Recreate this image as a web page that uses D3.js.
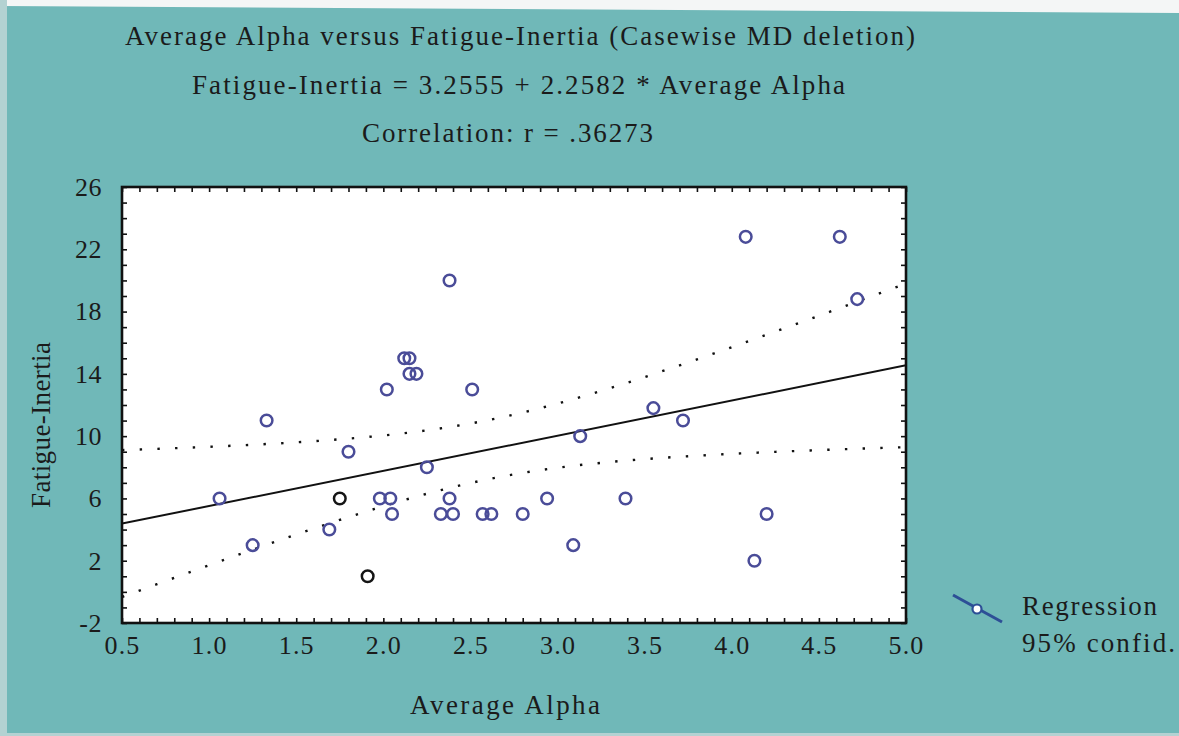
<!DOCTYPE html>
<html>
<head>
<meta charset="utf-8">
<script src="https://cdn.jsdelivr.net/npm/d3@7"></script>
<style>
  html, body { margin: 0; padding: 0; background: #70b8b8; }
  svg { display: block; }
  text { font-family: "Liberation Serif", "Times New Roman", serif; fill: #1b1b1b; }
</style>
</head>
<body>
<svg id="chart" width="1179" height="736"></svg>
<script>
// Average Alpha (x) and Fatigue-Inertia (y) for each case
const alphaValues = [1.06, 1.25, 1.33, 1.69, 1.75, 1.80, 1.91, 1.98, 2.04, 2.05,
                     2.02, 2.12, 2.15, 2.15, 2.19, 2.25, 2.38, 2.33, 2.40, 2.38,
                     2.51, 2.57, 2.62, 2.80, 2.94, 3.09, 3.13, 3.39, 3.55, 3.72,
                     4.08, 4.13, 4.20, 4.62, 4.72];
const fatigueValues = [6, 3, 11, 4, 6, 9, 1, 6, 6, 5,
                       13, 15, 15, 14, 14, 8, 20, 5, 5, 6,
                       13, 5, 5, 5, 6, 3, 10, 6, 11.8, 11,
                       22.8, 2, 5, 22.8, 18.8];
// cases drawn with a black outline
const blackCases = [4, 6];

// fitted regression and its statistics
const intercept = 3.2555;
const slope = 2.2582;
const correlation = ".36273";
const tCrit = 2.0345; // t(0.975, df = 33)

const xTicks = [0.5, 1.0, 1.5, 2.0, 2.5, 3.0, 3.5, 4.0, 4.5, 5.0];
const yTicks = [-2, 2, 6, 10, 14, 18, 22, 26];

const svg = d3.select("#chart");
const W = 1179, H = 736;
const plot = { left: 122, right: 906, top: 187, bottom: 623 };

// page background with the light scan edges
svg.append("rect").attr("width", W).attr("height", H).attr("fill", "#70b8b8");
svg.append("path").attr("d", `M0,0H${W}V13L0,6Z`).attr("fill", "#f4f6f6");
svg.append("rect").attr("x", 0).attr("y", 0).attr("width", 7).attr("height", H).attr("fill", "#b3d2d2");
svg.append("rect").attr("x", 0).attr("y", H - 3).attr("width", W).attr("height", 3).attr("fill", "#b3d2d2");

const x = d3.scaleLinear().domain([0.5, 5.0]).range([plot.left, plot.right]);
const y = d3.scaleLinear().domain([-2, 26]).range([plot.bottom, plot.top]);

// titles
const titles = [
  { text: "Average Alpha versus Fatigue-Inertia (Casewise MD deletion)", x: 125, y: 45, len: 790 },
  { text: `Fatigue-Inertia = ${intercept} + ${slope} * Average Alpha`, x: 192, y: 94, len: 653 },
  { text: `Correlation: r = ${correlation}`, x: 362, y: 142, len: 291 }
];
svg.selectAll("text.title").data(titles).join("text")
  .attr("class", "title")
  .attr("x", d => d.x).attr("y", d => d.y)
  .attr("textLength", d => d.len).attr("lengthAdjust", "spacing")
  .style("font-size", "27px")
  .text(d => d.text);

// plot area
svg.append("rect")
  .attr("x", plot.left).attr("y", plot.top)
  .attr("width", plot.right - plot.left).attr("height", plot.bottom - plot.top)
  .attr("fill", "#ffffff");

// inner minor ticks on all four sides
const xMinor = d3.range(5, 51).map(d => d / 10);
const yMinor = d3.range(-2, 27);
function minorAxis(axisFn, scale, values, transform) {
  const g = svg.append("g").attr("transform", transform)
    .call(axisFn(scale).tickValues(values).tickSize(-5).tickFormat(""));
  g.select(".domain").remove();
  g.selectAll(".tick line").attr("stroke", "#111").attr("stroke-width", 1.6);
}
minorAxis(d3.axisBottom, x, xMinor, `translate(0,${plot.bottom})`);
minorAxis(d3.axisTop, x, xMinor, `translate(0,${plot.top})`);
minorAxis(d3.axisLeft, y, yMinor, `translate(${plot.left},0)`);
minorAxis(d3.axisRight, y, yMinor, `translate(${plot.right},0)`);

// tick labels
const xAxis = svg.append("g").attr("transform", `translate(0,${plot.bottom})`)
  .call(d3.axisBottom(x).tickValues(xTicks).tickSize(0).tickPadding(13).tickFormat(d3.format(".1f")));
xAxis.select(".domain").remove();
xAxis.selectAll("text").style("font-size", "26px").style("letter-spacing", "1.2px")
  .style("font-family", "Liberation Serif").attr("fill", "#1b1b1b");

const yAxis = svg.append("g").attr("transform", `translate(${plot.left},0)`)
  .call(d3.axisLeft(y).tickValues(yTicks).tickSize(0).tickPadding(20).tickFormat(d => String(d)));
yAxis.select(".domain").remove();
yAxis.selectAll("text").style("font-size", "26px").style("letter-spacing", "0.5px")
  .style("font-family", "Liberation Serif").attr("fill", "#1b1b1b");

// axis titles
svg.append("text")
  .attr("x", 410).attr("y", 714)
  .attr("textLength", 190).attr("lengthAdjust", "spacing")
  .style("font-size", "27px")
  .text("Average Alpha");
svg.append("text")
  .attr("transform", `translate(50,425) rotate(-90)`)
  .attr("text-anchor", "middle")
  .attr("textLength", 166).attr("lengthAdjust", "spacing")
  .style("font-size", "27px")
  .text("Fatigue-Inertia");

// regression line and 95% confidence band of the mean
const n = alphaValues.length;
const meanX = d3.mean(alphaValues);
const sxx = d3.sum(alphaValues, v => (v - meanX) ** 2);
const sse = d3.sum(alphaValues, (v, i) => (fatigueValues[i] - (intercept + slope * v)) ** 2);
const se = Math.sqrt(sse / (n - 2));
const fit = v => intercept + slope * v;
const half = v => tCrit * se * Math.sqrt(1 / n + (v - meanX) ** 2 / sxx);

const grid = d3.range(0, 91).map(i => 0.5 + i * 0.05);
svg.append("clipPath").attr("id", "plotClip")
  .append("rect").attr("x", plot.left).attr("y", plot.top)
  .attr("width", plot.right - plot.left).attr("height", plot.bottom - plot.top);

const inner = svg.append("g").attr("clip-path", "url(#plotClip)");
const line = d3.line().x(d => x(d[0])).y(d => y(d[1]));

[1, -1].forEach(sign => {
  inner.append("path")
    .attr("d", line(grid.map(v => [v, fit(v) + sign * half(v)])))
    .attr("fill", "none").attr("stroke", "#111")
    .attr("stroke-width", 2.4).attr("stroke-linecap", "butt")
    .attr("stroke-dasharray", "2.4 15.3");
});

inner.append("path")
  .attr("d", line([[0.5, fit(0.5)], [5.0, fit(5.0)]]))
  .attr("fill", "none").attr("stroke", "#111").attr("stroke-width", 2);

// cases
inner.selectAll("circle.case").data(alphaValues).join("circle")
  .attr("class", "case")
  .attr("cx", d => x(d))
  .attr("cy", (d, i) => y(fatigueValues[i]))
  .attr("r", 5.8)
  .attr("fill", "none")
  .attr("stroke", (d, i) => blackCases.includes(i) ? "#151515" : "#4a4c98")
  .attr("stroke-width", 2.5);

// plot frame
svg.append("rect")
  .attr("x", plot.left).attr("y", plot.top)
  .attr("width", plot.right - plot.left).attr("height", plot.bottom - plot.top)
  .attr("fill", "none").attr("stroke", "#111").attr("stroke-width", 2.6);

// legend
const legend = svg.append("g");
legend.append("line")
  .attr("x1", 953).attr("y1", 595).attr("x2", 1002).attr("y2", 622)
  .attr("stroke", "#2d4f96").attr("stroke-width", 3);
legend.append("circle")
  .attr("cx", 977).attr("cy", 609).attr("r", 4.5)
  .attr("fill", "#ffffff").attr("stroke", "#2d4f96").attr("stroke-width", 2.2);
legend.append("text").attr("x", 1022).attr("y", 615)
  .attr("textLength", 135).attr("lengthAdjust", "spacing")
  .style("font-size", "27px").text("Regression");
legend.append("text").attr("x", 1022).attr("y", 652)
  .attr("textLength", 153).attr("lengthAdjust", "spacing")
  .style("font-size", "27px").text("95% confid.");
</script>
</body>
</html>
